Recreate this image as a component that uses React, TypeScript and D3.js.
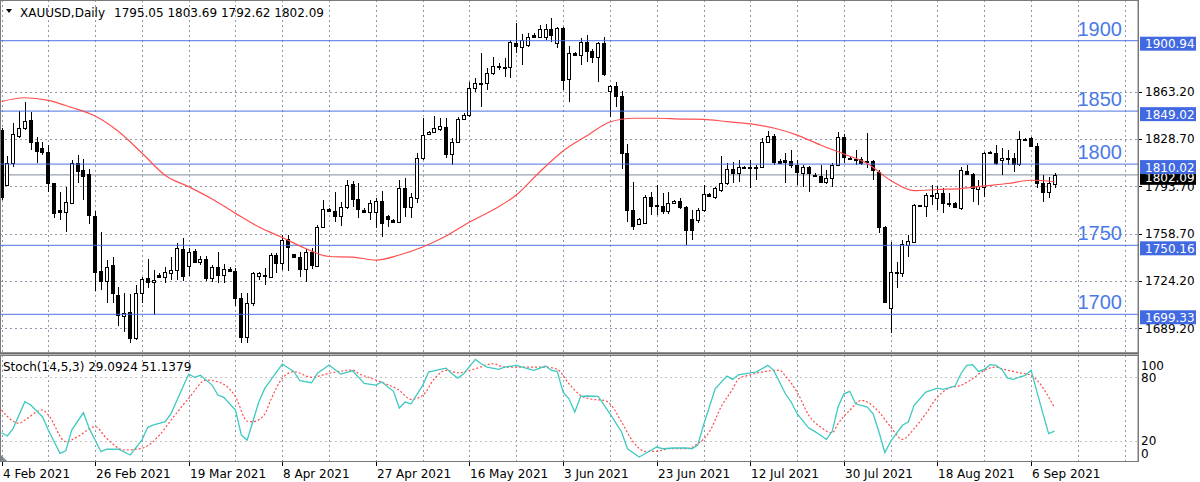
import { scaleLinear, line, curveMonotoneX, curveLinear, range } from "d3";

// daily candles, bar 0 = 4 Feb 2021
const opens = [
  1835.1, 1794.6, 1810.6, 1830.7, 1836.4, 1842.5, 1826.5, 1821.9, 1819.1, 1795.9,
  1775.9, 1774.9, 1781.6, 1810.6, 1805.7, 1802.7, 1772.0, 1731.2, 1723.9, 1735.6,
  1713.5, 1698.3, 1701.2, 1681.6, 1714.8, 1725.8, 1723.1, 1728.1, 1727.0, 1730.0,
  1732.0, 1747.4, 1734.9, 1745.9, 1737.6, 1739.8, 1726.3, 1734.4, 1728.3, 1732.5,
  1731.2, 1711.5, 1682.8, 1707.4, 1727.8, 1728.3, 1727.0, 1743.0, 1736.9, 1754.8,
  1743.5, 1741.8, 1732.5, 1745.4, 1734.9, 1763.9, 1776.7, 1775.7, 1771.8, 1778.6,
  1795.3, 1784.1, 1776.2, 1774.9, 1774.9, 1783.0, 1771.8, 1768.8, 1767.6, 1792.2,
  1778.6, 1784.8, 1814.3, 1832.2, 1833.9, 1835.9, 1837.6, 1817.4, 1826.5, 1843.0,
  1846.2, 1865.9, 1870.0, 1869.5, 1876.9, 1882.1, 1881.8, 1881.3, 1899.5, 1896.1,
  1897.8, 1904.9, 1903.9, 1903.7, 1909.6, 1899.0, 1910.1, 1872.5, 1892.1, 1890.4,
  1900.2, 1893.6, 1889.1, 1899.5, 1864.1, 1867.6, 1860.2, 1818.0, 1776.2, 1765.9,
  1766.4, 1785.5, 1779.9, 1779.4, 1775.7, 1781.6, 1783.0, 1778.2, 1769.3, 1768.8,
  1776.2, 1787.9, 1785.5, 1790.9, 1795.9, 1806.2, 1803.2, 1807.9, 1807.9, 1807.9,
  1807.6, 1826.5, 1830.7, 1812.3, 1812.7, 1812.5, 1809.3, 1803.7, 1808.1, 1802.3,
  1801.2, 1797.0, 1799.5, 1809.3, 1830.2, 1814.5, 1813.8, 1813.5, 1811.3, 1812.5,
  1804.4, 1763.4, 1703.7, 1730.7, 1729.5, 1750.6, 1752.8, 1779.5, 1779.1, 1787.6,
  1784.8, 1788.5, 1781.1, 1781.6, 1777.4, 1805.1, 1802.7, 1791.4, 1792.9, 1818.8,
  1818.4, 1813.0, 1814.5, 1814.3, 1810.1, 1828.5, 1829.0, 1823.3, 1795.9, 1789.7,
  1795.05,
];
const highs = [
  1836.6, 1816.0, 1840.1, 1849.4, 1855.8, 1848.6, 1830.2, 1826.5, 1824.1, 1796.3,
  1789.7, 1792.9, 1813.0, 1816.7, 1813.8, 1806.2, 1775.4, 1759.7, 1739.3, 1741.8,
  1719.6, 1714.8, 1714.3, 1720.9, 1727.0, 1739.8, 1732.0, 1730.0, 1734.4, 1741.8,
  1751.6, 1755.3, 1747.9, 1747.2, 1742.3, 1742.3, 1735.6, 1745.4, 1736.4, 1734.0,
  1733.7, 1714.8, 1715.2, 1730.7, 1730.7, 1733.2, 1744.3, 1744.3, 1757.8, 1757.8,
  1743.8, 1745.4, 1747.4, 1747.9, 1765.1, 1783.6, 1777.4, 1789.7, 1782.3, 1798.3,
  1797.8, 1795.9, 1777.6, 1783.6, 1784.8, 1790.2, 1772.5, 1769.3, 1798.3, 1799.5,
  1788.9, 1818.0, 1843.8, 1834.6, 1845.5, 1843.8, 1843.8, 1829.0, 1844.9, 1847.4,
  1870.7, 1873.2, 1891.6, 1880.6, 1889.1, 1884.3, 1888.0, 1901.5, 1913.8, 1905.9,
  1906.4, 1906.4, 1912.5, 1913.2, 1917.7, 1911.3, 1911.3, 1897.0, 1892.8, 1902.7,
  1905.1, 1894.6, 1900.2, 1903.9, 1868.3, 1870.7, 1864.1, 1824.8, 1797.0, 1770.0,
  1787.2, 1789.7, 1794.6, 1788.5, 1789.7, 1783.9, 1784.8, 1779.1, 1776.2, 1777.4,
  1794.6, 1788.7, 1793.4, 1816.0, 1810.6, 1811.8, 1813.0, 1808.6, 1813.0, 1809.3,
  1829.0, 1834.6, 1832.2, 1813.8, 1818.0, 1820.4, 1813.0, 1809.3, 1808.6, 1803.2,
  1809.3, 1805.7, 1810.6, 1833.9, 1832.2, 1815.0, 1820.4, 1815.5, 1832.7, 1813.0,
  1805.7, 1764.4, 1752.8, 1738.1, 1754.1, 1757.8, 1780.4, 1779.9, 1788.5, 1794.6,
  1793.9, 1792.2, 1788.5, 1782.3, 1808.1, 1809.3, 1803.7, 1798.3, 1819.1, 1819.3,
  1824.1, 1821.6, 1820.4, 1818.0, 1834.6, 1829.5, 1830.2, 1825.3, 1802.0, 1800.7,
  1803.69,
];
const lows = [
  1783.5, 1793.9, 1807.6, 1829.0, 1835.1, 1820.4, 1811.0, 1816.7, 1789.7, 1770.0,
  1768.8, 1760.2, 1781.1, 1796.3, 1783.6, 1765.9, 1716.7, 1717.2, 1707.4, 1707.4,
  1690.9, 1686.5, 1677.9, 1680.4, 1707.9, 1718.5, 1698.8, 1725.8, 1722.2, 1724.6,
  1724.6, 1724.1, 1727.5, 1737.3, 1735.6, 1724.1, 1723.3, 1722.2, 1722.2, 1730.7,
  1705.6, 1677.9, 1677.9, 1705.6, 1724.6, 1720.9, 1727.0, 1730.0, 1732.0, 1731.4,
  1741.5, 1727.0, 1723.3, 1732.5, 1734.4, 1762.7, 1774.9, 1767.6, 1764.4, 1776.7,
  1778.6, 1770.0, 1773.9, 1768.8, 1762.7, 1756.5, 1763.9, 1766.4, 1766.8, 1771.2,
  1770.0, 1781.1, 1813.0, 1831.4, 1832.7, 1834.6, 1814.3, 1809.3, 1825.8, 1842.5,
  1844.9, 1863.4, 1852.3, 1864.6, 1875.7, 1879.3, 1874.4, 1873.2, 1891.6, 1883.0,
  1896.5, 1902.7, 1902.7, 1901.5, 1900.0, 1895.3, 1864.6, 1856.0, 1889.7, 1883.0,
  1885.5, 1884.7, 1870.7, 1874.9, 1844.9, 1852.3, 1806.2, 1767.6, 1761.4, 1765.1,
  1765.9, 1772.5, 1772.5, 1773.2, 1773.2, 1780.6, 1776.7, 1750.4, 1754.1, 1766.4,
  1774.9, 1785.7, 1784.1, 1789.7, 1794.6, 1795.9, 1797.0, 1806.4, 1792.2, 1798.3,
  1806.9, 1825.3, 1809.3, 1810.1, 1795.9, 1806.9, 1794.6, 1793.4, 1789.7, 1800.7,
  1796.5, 1795.3, 1793.4, 1808.6, 1810.6, 1813.0, 1809.3, 1809.3, 1806.9, 1798.3,
  1759.0, 1707.8, 1685.3, 1718.5, 1727.0, 1741.8, 1751.6, 1778.2, 1770.8, 1779.9,
  1776.2, 1773.7, 1778.6, 1777.4, 1776.2, 1802.0, 1782.3, 1779.9, 1786.0, 1817.4,
  1809.3, 1802.0, 1809.3, 1804.4, 1808.6, 1827.2, 1822.4, 1792.2, 1782.3, 1784.8,
  1792.62,
];
const closes = [
  1785.7, 1810.6, 1832.0, 1836.4, 1842.0, 1826.5, 1819.9, 1819.1, 1796.3, 1774.2,
  1774.5, 1781.9, 1810.6, 1805.1, 1801.5, 1772.5, 1730.7, 1723.9, 1734.0, 1714.8,
  1698.8, 1700.0, 1681.6, 1714.8, 1725.1, 1723.3, 1724.6, 1727.0, 1730.3, 1732.0,
  1747.9, 1727.5, 1745.4, 1738.1, 1740.1, 1726.3, 1734.4, 1728.3, 1732.7, 1731.4,
  1711.5, 1682.8, 1707.9, 1729.5, 1729.5, 1727.5, 1743.0, 1736.9, 1754.1, 1749.1,
  1741.8, 1732.5, 1745.0, 1735.6, 1763.9, 1776.7, 1775.7, 1771.8, 1778.6, 1794.6,
  1784.1, 1776.7, 1774.7, 1781.6, 1783.0, 1766.4, 1769.3, 1767.6, 1792.2, 1778.6,
  1786.0, 1814.3, 1831.4, 1833.9, 1836.8, 1838.1, 1817.4, 1826.5, 1843.0, 1846.2,
  1865.9, 1869.5, 1869.0, 1876.9, 1882.3, 1881.6, 1880.8, 1900.2, 1897.2, 1901.5,
  1903.9, 1903.9, 1909.3, 1909.6, 1905.2, 1910.1, 1872.0, 1892.1, 1890.4, 1900.2,
  1893.6, 1889.1, 1899.5, 1876.4, 1867.6, 1860.2, 1818.0, 1776.2, 1764.4, 1769.3,
  1785.5, 1779.1, 1779.1, 1775.7, 1781.6, 1783.0, 1778.2, 1761.4, 1761.4, 1776.2,
  1787.9, 1786.7, 1792.2, 1795.9, 1806.2, 1803.2, 1808.1, 1807.1, 1807.1, 1807.1,
  1826.5, 1830.7, 1811.3, 1811.0, 1811.9, 1809.3, 1804.0, 1808.1, 1803.2, 1801.6,
  1797.0, 1799.5, 1809.3, 1830.2, 1815.5, 1813.8, 1813.0, 1811.0, 1812.1, 1805.7,
  1763.4, 1708.6, 1730.7, 1729.5, 1751.1, 1753.6, 1779.9, 1778.8, 1787.2, 1786.9,
  1788.5, 1781.1, 1780.4, 1778.2, 1805.7, 1802.7, 1792.2, 1793.9, 1818.4, 1818.0,
  1811.0, 1814.3, 1813.8, 1810.1, 1828.3, 1827.8, 1823.3, 1795.9, 1789.7, 1796.3,
  1802.09,
];

// moving average: [bar, price]
const maPoints: [number, number][] = [
  [0, 1856.1], [4, 1858.9], [8, 1857.0], [12, 1851.7], [16, 1845.4], [20, 1834.0],
  [24, 1818.2], [28, 1801.6], [32, 1793.3], [36, 1784.3], [40, 1773.7], [44, 1763.6],
  [48, 1755.9], [52, 1747.8], [56, 1741.9], [60, 1741.5], [64, 1739.3], [68, 1743.0],
  [72, 1748.9], [76, 1757.0], [80, 1767.3], [84, 1776.2], [88, 1787.2], [92, 1804.2],
  [96, 1819.7], [100, 1830.7], [104, 1841.0], [108, 1843.8], [112, 1843.8], [116, 1843.2],
  [120, 1843.0], [124, 1841.3], [128, 1839.6], [132, 1836.6], [136, 1831.4], [140, 1824.1],
  [144, 1817.4], [148, 1810.4], [152, 1797.9], [156, 1790.4], [160, 1791.3], [164, 1792.0],
  [168, 1793.9], [172, 1795.7], [176, 1798.1], [180, 1797.0],
];

// stochastic %K and %D: [bar, value]
const stochK: [number, number][] = [
  [0, 27.5], [1, 24.4], [2, 31.6], [4, 56.7], [5, 53.6], [7, 42.6], [8, 30.0], [10, 8.1],
  [11, 10.5], [12, 30.0], [14, 46.3], [15, 31.6], [17, 9.6], [18, 11.9], [20, 11.9], [22, 6.5],
  [24, 20.6], [25, 32.6], [26, 34.8], [28, 37.9], [29, 45.8], [32, 82.8], [33, 79.7], [34, 81.6],
  [36, 72.4], [37, 63.0], [38, 60.8], [40, 48.9], [41, 25.3], [42, 20.6], [44, 56.7], [45, 69.3],
  [48, 92.2], [50, 85.0], [51, 76.5], [53, 74.6], [54, 83.5], [56, 91.3], [58, 82.8], [60, 85.9],
  [62, 74.0], [64, 72.4], [65, 75.3], [67, 66.5], [68, 50.8], [69, 56.4], [70, 54.8], [72, 72.1],
  [73, 84.7], [75, 87.2], [76, 88.4], [77, 83.1], [78, 79.0], [79, 83.1], [81, 96.6], [82, 92.5],
  [83, 89.4], [85, 87.2], [86, 89.4], [88, 91.0], [91, 86.3], [93, 90.3], [94, 86.3], [95, 85.3],
  [96, 65.8], [97, 59.5], [98, 47.0], [99, 61.8], [100, 62.1], [102, 61.8], [104, 45.4], [106, 28.2],
  [107, 12.4], [109, 4.6], [110, 7.7], [112, 14.0], [113, 12.4], [115, 13.1], [117, 13.1], [118, 12.4],
  [119, 15.6], [120, 34.5], [122, 68.9], [124, 80.9], [125, 77.8], [126, 82.1], [128, 84.0], [129, 84.7],
  [131, 91.0], [132, 86.3], [134, 64.2], [135, 56.4], [136, 45.4], [138, 31.9], [139, 28.8], [140, 25.1],
  [141, 21.3], [142, 28.8], [143, 51.7], [144, 64.2], [145, 66.5], [146, 54.8], [148, 51.7], [149, 45.4],
  [150, 28.2], [151, 8.7], [152, 19.4], [154, 34.5], [155, 37.6], [156, 53.3], [158, 65.8], [160, 69.6],
  [161, 68.4], [163, 71.5], [164, 83.1], [165, 91.0], [166, 91.6], [167, 85.3], [168, 87.2], [169, 91.6],
  [170, 91.0], [171, 87.2], [172, 79.0], [173, 77.8], [174, 80.0], [175, 81.6], [176, 86.3], [177, 66.0],
  [178, 46.0], [179, 26.6], [180, 29.0924],
];
const stochD: [number, number][] = [
  [0, 48.9], [3, 36.4], [4, 39.5], [7, 48.9], [8, 44.2], [11, 19.0], [13, 23.7], [16, 33.2],
  [18, 22.0], [21, 11.2], [24, 12.8], [27, 25.3], [29, 39.5], [32, 59.9], [35, 77.1], [37, 75.5],
  [40, 61.4], [42, 38.5], [43, 37.9], [45, 45.0], [46, 58.0], [48, 78.7], [50, 85.0], [53, 79.7],
  [56, 83.5], [60, 86.6], [61, 83.5], [64, 77.1], [68, 67.4], [70, 59.0], [72, 62.7], [74, 78.4],
  [76, 86.3], [78, 84.0], [81, 87.8], [84, 92.5], [86, 89.4], [89, 89.4], [93, 89.4], [95, 87.2],
  [97, 73.7], [99, 62.7], [101, 59.0], [103, 58.0], [104, 54.8], [106, 37.6], [108, 18.7], [110, 10.0],
  [112, 10.0], [114, 12.4], [117, 12.4], [119, 17.1], [121, 28.2], [123, 51.7], [125, 68.9], [126, 78.4],
  [128, 82.1], [131, 85.6], [133, 86.3], [134, 80.9], [136, 65.8], [138, 43.9], [140, 32.9], [142, 27.5],
  [143, 36.0], [145, 48.6], [147, 58.0], [148, 56.4], [150, 47.0], [152, 32.9], [154, 21.3], [156, 31.3],
  [158, 45.4], [160, 61.1], [162, 69.6], [164, 72.1], [166, 78.4], [168, 86.3], [170, 89.4], [171, 87.8],
  [174, 84.0], [176, 81.6], [177, 77.0], [178, 70.0], [179, 61.0], [180, 51.1379],
];

const dateLabels = [
  "4 Feb 2021", "26 Feb 2021", "19 Mar 2021", "8 Apr 2021", "27 Apr 2021", "16 May 2021",
  "3 Jun 2021", "23 Jun 2021", "12 Jul 2021", "30 Jul 2021", "18 Aug 2021", "6 Sep 2021",
];
const dateBars = [0, 16, 32, 48, 64, 80, 96, 112, 128, 144, 160, 176];

const priceTicks = [1863.2, 1828.7, 1793.7, 1758.7, 1724.2, 1689.2];
const levelPrices = [1900.94, 1849.02, 1810.02, 1750.16, 1699.33];
const levelNames = ["1900", "1850", "1800", "1750", "1700"];
const stochLevels = [100, 80, 20, 0];
const stochGrid = [80, 20];

const lastPrice = 1802.09;
const ohlcText = "1795.05 1803.69 1792.62 1802.09";

const FONT = "DejaVu Sans, Verdana, sans-serif";
const GRID = "#8e98aa";
const BLUE = "#4169e1";

export default function App() {
    const plotRight = 1138;
    const mainBottom = 353;
    const stochTop = 355;
    const stochBottom = 462;

    const x = scaleLinear().domain([0, 180]).range([1.5, 1054.5]);
    const y = scaleLinear().domain([1670.8, 1930.93]).range([mainBottom, 0]);
    const ys = scaleLinear().domain([0, 100]).range([461.9, 355.8]);

    const px = (i: number) => Math.round(x(i));
    const gridBars = range(0, 200, 8).filter((b) => x(b) < plotRight);

    const maLine = line<[number, number]>()
        .x((d) => x(d[0]))
        .y((d) => y(d[1]))
        .curve(curveMonotoneX);
    const kLine = line<[number, number]>()
        .x((d) => x(d[0]))
        .y((d) => ys(d[1]))
        .curve(curveLinear);
    const dLine = line<[number, number]>()
        .x((d) => x(d[0]))
        .y((d) => ys(d[1]))
        .curve(curveMonotoneX);

    const lastY = y(lastPrice);

    return (
        <svg
            width={1200}
            height={482}
            style={{ position: "absolute", left: 0, top: 0, background: "#fff" }}
            fontFamily={FONT}
            fontSize={12}
        >
            <defs>
                <clipPath id="mainClip">
                    <rect x={0} y={0} width={plotRight} height={mainBottom} />
                </clipPath>
                <clipPath id="stochClip">
                    <rect x={0} y={stochTop} width={plotRight} height={stochBottom - stochTop} />
                </clipPath>
            </defs>
            <rect x={0} y={0} width={1200} height={482} fill="#fff" />

            {/* main panel */}
            <g clipPath="url(#mainClip)">
                {gridBars.map((b) => (
                    <line key={"vg" + b} x1={px(b) + 0.5} x2={px(b) + 0.5} y1={0} y2={mainBottom}
                        stroke={GRID} strokeDasharray="2,3" />
                ))}
                {priceTicks.map((p) => (
                    <line key={"hg" + p} x1={0} x2={plotRight} y1={Math.round(y(p)) + 0.5} y2={Math.round(y(p)) + 0.5}
                        stroke={GRID} strokeDasharray="2,3" />
                ))}
                <line x1={0} x2={plotRight} y1={lastY} y2={lastY} stroke="#9aa2b0" strokeWidth={1.2} />
                {opens.map((o, i) => {
                    const c = closes[i];
                    const cx = px(i);
                    const top = Math.round(y(Math.max(o, c)));
                    const bot = Math.round(y(Math.min(o, c)));
                    const up = c >= o;
                    return (
                        <g key={"c" + i} shapeRendering="crispEdges">
                            <line x1={cx + 0.5} x2={cx + 0.5} y1={Math.round(y(highs[i]))} y2={Math.round(y(lows[i]))}
                                stroke="#000" />
                            <rect x={cx - 1.5} y={top + 0.5} width={3} height={Math.max(bot - top, 1)}
                                fill={up ? "#fff" : "#000"} stroke="#000" />
                        </g>
                    );
                })}
                {levelPrices.map((p) => (
                    <line key={"lv" + p} x1={0} x2={plotRight} y1={y(p)} y2={y(p)} stroke={BLUE}
                        strokeOpacity={0.75} strokeWidth={1.3} />
                ))}
                <path d={maLine(maPoints) || ""} fill="none" stroke="#ff5050" strokeWidth={1.2} />
                {levelPrices.map((p, k) => (
                    <text key={"lt" + p} x={1122} y={y(p) - 5} textAnchor="end" fill="#4a7ae6"
                        fontFamily="Liberation Sans, Arial, sans-serif" fontSize={20}>
                        {levelNames[k]}
                    </text>
                ))}
            </g>
            <polygon points="6,9 12,9 9,13" fill="#000" />
            <text x={20} y={16.5} fill="#000">XAUUSD,Daily</text>
            <text x={114} y={16.5} fill="#000">{ohlcText}</text>
            <rect x={0.5} y={0.5} width={plotRight - 0.5} height={mainBottom - 0.5} fill="none" stroke="#7a7a7a" />

            {/* stochastic panel */}
            <g clipPath="url(#stochClip)">
                {gridBars.map((b) => (
                    <line key={"svg" + b} x1={px(b) + 0.5} x2={px(b) + 0.5} y1={stochTop} y2={stochBottom}
                        stroke={GRID} strokeDasharray="2,3" />
                ))}
                {stochGrid.map((v) => (
                    <line key={"sg" + v} x1={0} x2={plotRight} y1={Math.round(ys(v)) + 0.5} y2={Math.round(ys(v)) + 0.5}
                        stroke="#c4c4c4" strokeDasharray="2,3" />
                ))}
                <path d={dLine(stochD) || ""} fill="none" stroke="#ff4a4a" strokeWidth={1.2} strokeDasharray="2,2" />
                <path d={kLine(stochK) || ""} fill="none" stroke="#3fc9c0" strokeWidth={1.3} />
                <polygon points={`0,${stochBottom - 8} 0,${stochBottom - 1} 7,${stochBottom - 1}`} fill="#7f8a99" />
            </g>
            <text x={3} y={371} fill="#000">Stoch(14,5,3) 29.0924 51.1379</text>
            <line x1={0} x2={plotRight} y1={353.5} y2={353.5} stroke="#6a6a6a" strokeWidth={2} />
            <rect x={0.5} y={stochTop + 0.5} width={plotRight - 0.5} height={stochBottom - stochTop - 1} fill="none"
                stroke="#7a7a7a" />

            {/* x axis */}
            {dateBars.map((b, k) => (
                <g key={"xd" + b}>
                    <line x1={px(b) + 0.5} x2={px(b) + 0.5} y1={stochBottom} y2={stochBottom + 4} stroke="#000" />
                    <text x={px(b) + 1} y={477.5} fill="#000">{dateLabels[k]}</text>
                </g>
            ))}

            {/* price axis */}
            {priceTicks.map((p) => (
                <g key={"pt" + p}>
                    <line x1={plotRight} x2={plotRight + 4} y1={Math.round(y(p)) + 0.5} y2={Math.round(y(p)) + 0.5}
                        stroke="#000" />
                    <text x={1145} y={y(p) + 4.5} fill="#000">{p.toFixed(2)}</text>
                </g>
            ))}
            <rect x={1140} y={lastY - 4} width={56} height={14} fill="#000" />
            <text x={1145} y={lastY + 7.6} fill="#fff">{lastPrice.toFixed(2)}</text>
            {levelPrices.map((p) => (
                <g key={"lb" + p}>
                    <rect x={1140} y={y(p) - 4} width={56} height={14} fill={BLUE} />
                    <text x={1145} y={y(p) + 7.6} fill="#fff">{p.toFixed(2)}</text>
                </g>
            ))}
            {stochLevels.map((v) => (
                <text key={"sl" + v} x={1141}
                    y={Math.min(Math.max(ys(v) + 4.5, stochTop + 15), stochBottom - 4.5)} fill="#000">
                    {v}
                </text>
            ))}
            <line x1={plotRight + 0.5} x2={plotRight + 0.5} y1={0} y2={stochBottom} stroke="#7a7a7a" />
        </svg>
    );
}
